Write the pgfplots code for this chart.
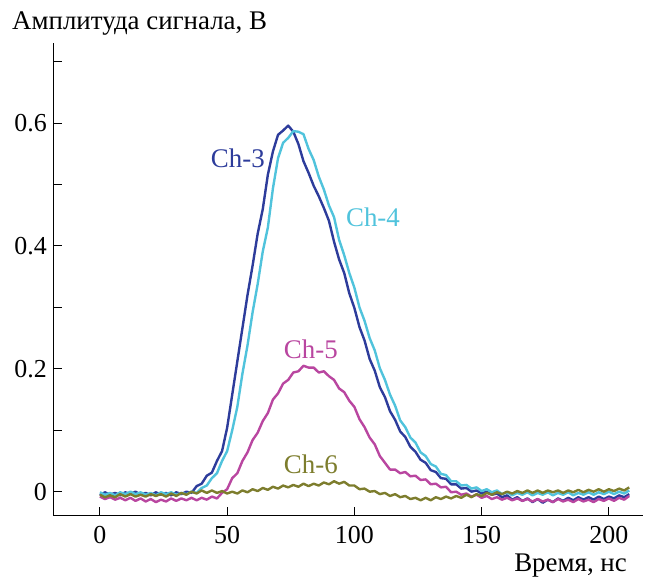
\documentclass[border=0pt]{standalone}
\usepackage{fontspec}
\setmainfont{Liberation Serif}
\usepackage{pgfplots}
\usepackage{pgfplotstable}
\pgfplotsset{compat=1.18}

\definecolor{cthree}{RGB}{45,60,155}
\definecolor{cfour}{RGB}{80,195,220}
\definecolor{cfive}{RGB}{185,70,160}
\definecolor{csix}{RGB}{125,125,45}

\pgfplotstableread{
t c3 c4 c5 c6
0 -0.006 -0.001 -0.008 -0.005
2 -0.001 -0.005 -0.012 -0.009
4 -0.005 -0.002 -0.009 -0.006
6 -0.002 -0.006 -0.013 -0.009
8 -0.006 -0.001 -0.010 -0.004
10 -0.001 -0.004 -0.014 -0.008
12 -0.004 0.000 -0.010 -0.004
14 0.000 -0.004 -0.015 -0.008
16 -0.005 -0.001 -0.011 -0.005
18 -0.002 -0.005 -0.016 -0.008
20 -0.006 -0.002 -0.012 -0.004
22 -0.001 -0.006 -0.017 -0.007
24 -0.005 -0.001 -0.013 -0.004
26 -0.002 -0.004 -0.016 -0.008
28 -0.006 -0.001 -0.011 -0.003
30 -0.001 -0.005 -0.015 -0.007
32 -0.004 -0.002 -0.011 -0.002
34 0.000 -0.004 -0.014 -0.005
36 -0.002 0.000 -0.010 0.000
38 0.009 -0.002 -0.014 -0.003
40 0.013 0.006 -0.010 0.002
42 0.026 0.010 -0.013 -0.002
44 0.031 0.022 -0.008 0.002
46 0.050 0.030 -0.011 -0.002
48 0.066 0.050 -0.002 0.001
50 0.104 0.066 0.004 -0.003
52 0.158 0.100 0.022 0.000
54 0.212 0.138 0.030 -0.003
56 0.266 0.192 0.050 0.002
58 0.320 0.238 0.064 -0.001
60 0.368 0.292 0.084 0.004
62 0.420 0.338 0.096 0.001
64 0.460 0.391 0.115 0.006
66 0.516 0.430 0.128 0.003
68 0.554 0.494 0.150 0.008
70 0.581 0.543 0.160 0.005
72 0.588 0.568 0.176 0.010
74 0.596 0.576 0.182 0.007
76 0.586 0.587 0.194 0.011
78 0.566 0.586 0.196 0.008
80 0.538 0.582 0.205 0.013
82 0.519 0.558 0.202 0.009
84 0.498 0.540 0.202 0.013
86 0.481 0.513 0.194 0.010
88 0.462 0.492 0.196 0.015
90 0.441 0.466 0.188 0.012
92 0.407 0.447 0.182 0.017
94 0.378 0.410 0.168 0.013
96 0.356 0.385 0.162 0.016
98 0.323 0.356 0.148 0.010
100 0.299 0.332 0.138 0.010
102 0.268 0.300 0.118 0.004
104 0.246 0.278 0.105 0.005
106 0.216 0.250 0.088 0.000
108 0.197 0.230 0.077 0.001
110 0.170 0.201 0.058 -0.004
112 0.154 0.182 0.047 -0.002
114 0.131 0.158 0.036 -0.007
116 0.117 0.140 0.036 -0.004
118 0.098 0.116 0.030 -0.009
120 0.089 0.105 0.032 -0.007
122 0.073 0.088 0.025 -0.012
124 0.065 0.080 0.026 -0.010
126 0.052 0.064 0.019 -0.014
128 0.047 0.058 0.020 -0.010
130 0.035 0.045 0.012 -0.014
132 0.032 0.041 0.013 -0.009
134 0.022 0.029 0.007 -0.012
136 0.021 0.027 0.008 -0.008
138 0.012 0.017 -0.001 -0.011
140 0.012 0.017 0.000 -0.007
142 0.005 0.010 -0.005 -0.010
144 0.006 0.011 -0.003 -0.005
146 0.000 0.005 -0.008 -0.009
148 0.002 0.007 -0.005 -0.004
150 -0.003 0.001 -0.010 -0.007
152 0.000 0.004 -0.007 -0.002
154 -0.005 -0.001 -0.012 -0.005
156 -0.003 0.002 -0.009 -0.001
158 -0.009 -0.004 -0.013 -0.004
160 -0.006 -0.001 -0.010 0.000
162 -0.013 -0.006 -0.014 -0.003
164 -0.009 -0.002 -0.011 0.001
166 -0.015 -0.005 -0.015 -0.002
168 -0.011 -0.001 -0.012 0.002
170 -0.017 -0.006 -0.016 -0.002
172 -0.012 -0.002 -0.012 0.002
174 -0.018 -0.005 -0.016 -0.002
176 -0.013 -0.001 -0.013 0.002
178 -0.017 -0.006 -0.017 -0.001
180 -0.011 -0.002 -0.012 0.002
182 -0.015 -0.005 -0.016 -0.002
184 -0.010 -0.001 -0.013 0.002
186 -0.014 -0.006 -0.017 -0.001
188 -0.009 -0.002 -0.012 0.003
190 -0.013 -0.005 -0.016 -0.001
192 -0.009 -0.001 -0.013 0.003
194 -0.013 -0.005 -0.017 0.000
196 -0.008 -0.001 -0.012 0.004
198 -0.012 -0.004 -0.015 0.000
200 -0.008 0.000 -0.011 0.004
202 -0.011 -0.004 -0.015 0.001
204 -0.006 0.000 -0.010 0.005
206 -0.009 -0.003 -0.013 0.002
208 -0.004 0.002 -0.007 0.007
}\datatable

\begin{document}
\begin{tikzpicture}[x=1bp,y=1bp]
\useasboundingbox (0,0) rectangle (650,577);
\begin{axis}[
  at={(53.3bp,61bp)}, anchor=south west,
  scale only axis, width=589.7bp, height=472.7bp,
  xmin=-18.3, xmax=213.4, ymin=-0.0396, ymax=0.73,
  axis x line*=bottom, axis y line*=left,
  axis line style={line width=1bp, -},
  tick style={line width=1bp, black},
  tick align=inside,
  major tick length=9bp,
  xtick={0,50,100,150,200}, xticklabels={0,50,100,150,200},
  ytick={0,0.1,0.2,0.3,0.4,0.5,0.6,0.7},
  yticklabels={0,,0.2,,0.4,,0.6,},
  ticklabel style={font=\fontsize{26}{30}\selectfont},
  xticklabel style={yshift=-7bp},
  yticklabel style={xshift=-3bp},
  /pgf/number format/assume math mode=true,
  clip=false,
  every axis plot/.append style={line width=2.4bp, line join=round, no markers},
]
\addplot[cthree] table[x=t, y=c3] {\datatable};
\addplot[cfour] table[x=t, y=c4] {\datatable};
\addplot[cfive] table[x=t, y=c5] {\datatable};
\addplot[csix] table[x=t, y=c6] {\datatable};
\node[text=cthree, font=\fontsize{27}{30}\selectfont] at (axis cs:54.2,0.543) {Ch-3};
\node[text=cfour, font=\fontsize{27}{30}\selectfont] at (axis cs:107.3,0.447) {Ch-4};
\node[text=cfive, font=\fontsize{27}{30}\selectfont] at (axis cs:82.9,0.232) {Ch-5};
\node[text=csix, font=\fontsize{27}{30}\selectfont] at (axis cs:82.9,0.045) {Ch-6};
\end{axis}
\node[anchor=base west, font=\fontsize{27}{30}\selectfont, inner sep=0pt] at (12,547) {Амплитуда сигнала, В};
\node[anchor=base east, font=\fontsize{27}{30}\selectfont, inner sep=0pt] at (627,5) {Время, нс};
\end{tikzpicture}
\end{document}
